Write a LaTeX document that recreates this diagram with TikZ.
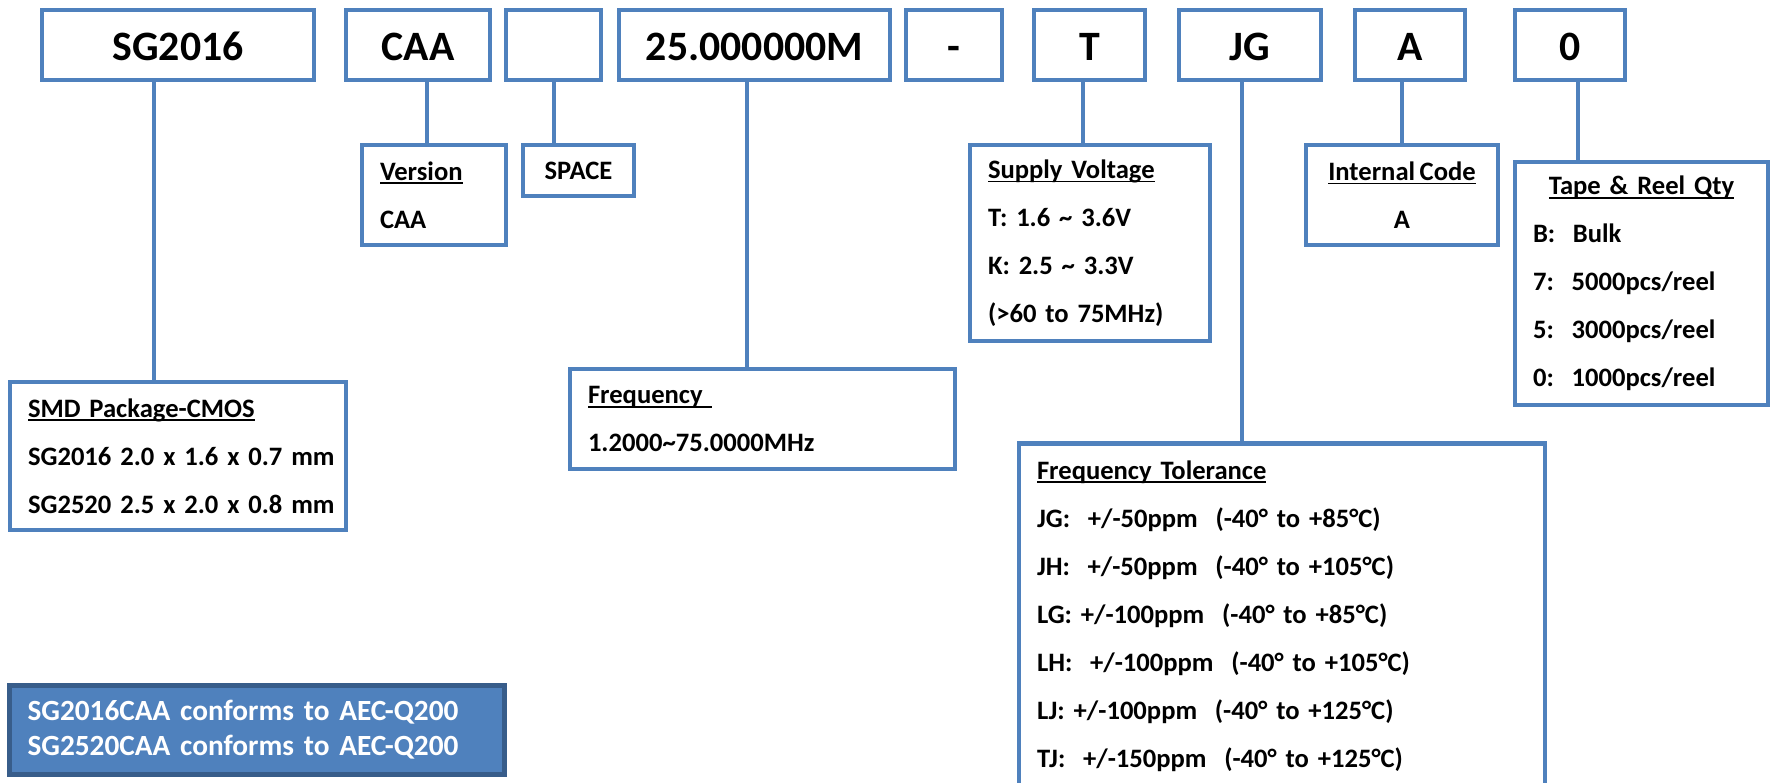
\documentclass[tikz,border=0pt]{standalone}
\usepackage{fontspec}
\setmainfont{Carlito}[WordSpace=0.75]
\frenchspacing
\definecolor{boxblue}{RGB}{79,129,189}
\definecolor{edgeblue}{RGB}{56,93,138}
\newsavebox{\ulbox}
\newcommand{\undl}[1]{\sbox{\ulbox}{#1}\rlap{\rule[-4pt]{\wd\ulbox}{1.8pt}}\usebox{\ulbox}}

\begin{document}
\begin{tikzpicture}[x=1pt, y=-1pt,
		box/.style={draw=boxblue, line width=4.5pt, rectangle, inner sep=0pt},
		code/.style={box, font=\fontsize{41.8}{50}\selectfont\bfseries, text height=32pt, text depth=0pt, minimum height=70pt},
		info/.style={box, font=\fontsize{26.6}{48}\selectfont\bfseries\frenchspacing, align=left, inner xsep=18pt},
		link/.style={draw=boxblue, line width=4.5pt}]
				\useasboundingbox (0, 0) rectangle (1773, 783);
				\clip (0, 0) rectangle (1773, 783);
				% part number fields
				\node[code, minimum width=272pt] (SG)at(178, 45) {SG2016};
				\node[code, minimum width=144pt] (CAA)at(418, 45) {CAA};
				\node[code, minimum width=95pt] (SP)at(553.5, 45) {};
				\node[code, minimum width=271pt] (FR)at(754.5, 45) {25.000000M};
				\node[code, minimum width=96pt] (DS)at(954, 45) {-};
				\node[code, minimum width=111pt] (T)at(1089.5, 45) {T};
				\node[code, minimum width=142pt] (JG)at(1250, 45) {JG};
				\node[code, minimum width=110pt] (A)at(1410, 45) {A};
				\node[code, minimum width=110pt] (Z)at(1570, 45) {0};
				% explanations
				\node[info, text width=108pt, minimum height=100pt] (VER)at(434, 195) {\undl{Version}\\CAA};
				\node[info, align=center, minimum width=111pt, minimum height=51pt] (SPC)at(578.5, 170.5) {SPACE};
				\node[info, text width=300pt, minimum height=148pt] (PKG)at(178, 456) {\undl{SMD Package-CMOS}\\\mbox{SG2016 2.0 x 1.6 x 0.7 mm}\\\mbox{SG2520 2.5 x 2.0 x 0.8 mm}};
				\node[info, text width=349pt, minimum height=100pt] (FRQ)at(762.5, 419) {\undl{Frequency\ }\\1.2000\textasciitilde75.0000MHz};
				\node[info, text width=204pt, minimum height=196pt] (VOLT)at(1090, 243) {\undl{Supply Voltage}\\T: 1.6 \textasciitilde{} 3.6V\\K: 2.5 \textasciitilde{} 3.3V\\(>60 to 75MHz)};
				\node[info, align=center, minimum width=192pt, minimum height=100pt] (IC)at(1402, 195) {\undl{Internal Code}\\A};
				\node[info, text width=217pt, minimum height=243pt] (QTY)at(1641.5, 283.5) {\hfill\undl{Tape \& Reel Qty}\hfill\null\\B:\ \ Bulk\\7:\ \ 5000pcs/reel\\5:\ \ 3000pcs/reel\\0:\ \ 1000pcs/reel};
				\node[info, text width=490pt, minimum height=345pt] (TOL)at(1282, 616) {\undl{Frequency Tolerance}\\JG:\ \ +/-50ppm\ \ (-40° to +85°C)\\JH:\ \ +/-50ppm\ \ (-40° to +105°C)\\LG: +/-100ppm\ \ (-40° to +85°C)\\LH:\ \ +/-100ppm\ \ (-40° to +105°C)\\LJ: +/-100ppm\ \ (-40° to +125°C)\\TJ:\ \ +/-150ppm\ \ (-40° to +125°C)};
				\node[box, draw=edgeblue, fill=boxblue, text=white, line width=5pt, font=\fontsize{29.3}{35}\selectfont\bfseries, align=left, text width=459pt, inner xsep=18pt, minimum height=89pt] (AEC)at(257, 730) {SG2016CAA conforms to AEC-Q200\\SG2520CAA conforms to AEC-Q200};
				% leaders
				\draw[link] (154, 0 |- SG.south) -- (154, 0 |- PKG.north);
				\draw[link] (427, 0 |- CAA.south) -- (427, 0 |- VER.north);
				\draw[link] (554, 0 |- SP.south) -- (554, 0 |- SPC.north);
				\draw[link] (747, 0 |- FR.south) -- (747, 0 |- FRQ.north);
				\draw[link] (1083, 0 |- T.south) -- (1083, 0 |- VOLT.north);
				\draw[link] (1242, 0 |- JG.south) -- (1242, 0 |- TOL.north);
				\draw[link] (1402, 0 |- A.south) -- (1402, 0 |- IC.north);
				\draw[link] (1578, 0 |- Z.south) -- (1578, 0 |- QTY.north);
			\end{tikzpicture}
\end{document}
